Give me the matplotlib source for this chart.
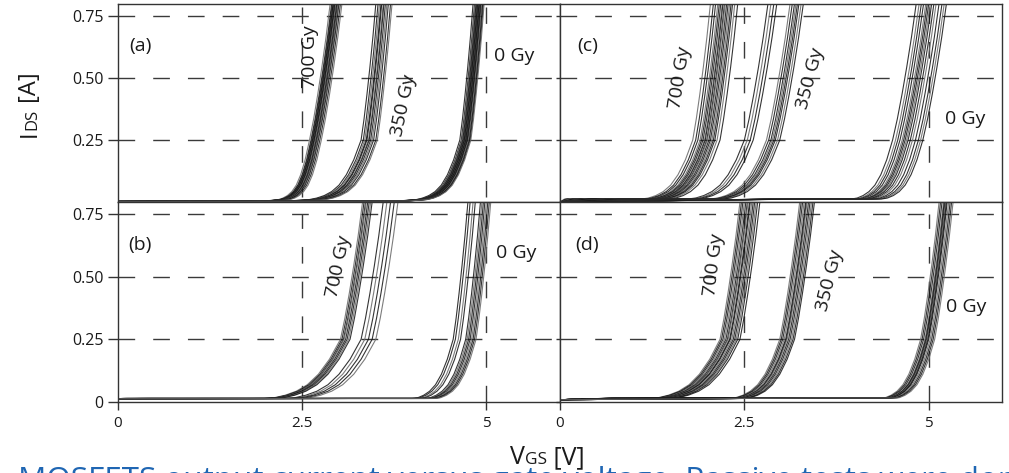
import numpy as np
import matplotlib
matplotlib.use("Agg")
import matplotlib.pyplot as plt

plt.rcParams['font.family'] = ['Open Sans', 'DejaVu Sans']

# typical transfer curve: offset from the 0.25 A crossing
# (in units of the group width) and drain current in A
shape_u = [-4.0, -2.0, -1.4, -1.2, -1.0, -0.8, -0.6, -0.4, -0.2, 0.0, 0.2, 0.4, 0.6, 0.8, 1.0, 1.15]
shape_i = [0.000, 0.004, 0.010, 0.016, 0.026, 0.042, 0.068, 0.11, 0.17, 0.25, 0.335, 0.435, 0.545, 0.665, 0.80, 0.90]

# VGS where each curve crosses 0.25 A
a_700 = [2.60, 2.62, 2.63, 2.64, 2.64, 2.65, 2.66, 2.66, 2.67, 2.68, 2.69, 2.70, 2.71, 2.72, 2.74, 2.76]
a_350 = [3.30, 3.33, 3.35, 3.37, 3.38, 3.40, 3.41, 3.43, 3.45, 3.47, 3.50, 3.52]
a_0 = [4.64, 4.66, 4.67, 4.68, 4.69, 4.70, 4.70, 4.71, 4.72, 4.72, 4.73, 4.74, 4.74, 4.75, 4.76, 4.77, 4.78, 4.79]

b_700 = [3.02, 3.04, 3.06, 3.07, 3.09, 3.11, 3.13, 3.15, 3.30, 3.35, 3.40, 3.45, 3.50]
b_0 = [4.55, 4.58, 4.62, 4.65, 4.72, 4.74, 4.76, 4.78, 4.80, 4.82, 4.84, 4.86]

c_700 = [1.80, 1.84, 1.87, 1.90, 1.92, 1.94, 1.96, 1.97, 1.99, 2.00, 2.02, 2.04, 2.06, 2.08, 2.10, 2.13, 2.17]
c_350 = [2.50, 2.54, 2.58, 2.62, 2.80, 2.83, 2.86, 2.88, 2.90, 2.92, 2.95, 2.98]
c_0 = [4.51, 4.55, 4.58, 4.61, 4.64, 4.66, 4.68, 4.70, 4.72, 4.75, 4.78, 4.82, 4.86, 4.89, 4.92]

d_700 = [2.17, 2.19, 2.21, 2.23, 2.25, 2.27, 2.28, 2.30, 2.31, 2.33, 2.35, 2.37, 2.39, 2.41, 2.44]
d_350 = [2.98, 3.00, 3.02, 3.04, 3.06, 3.07, 3.08, 3.10, 3.12, 3.14, 3.16, 3.18]
d_0 = [4.89, 4.91, 4.93, 4.95, 4.96, 4.97, 4.98, 4.99, 5.00, 5.02, 5.04, 5.06, 5.08]

# (curves, width above 0.25 A, width below 0.25 A)
panel_groups = {
    "a": [(a_700, 0.28, 0.30), (a_350, 0.20, 0.50), (a_0, 0.18, 0.42)],
    "b": [(b_700, 0.30, 0.75), (b_0, 0.20, 0.40)],
    "c": [(c_700, 0.24, 0.50), (c_350, 0.32, 0.55), (c_0, 0.32, 0.40)],
    "d": [(d_700, 0.27, 0.70), (d_350, 0.27, 0.50), (d_0, 0.25, 0.40)],
}
leak_start = {"a": 0.002, "b": 0.012, "c": 0.0, "d": 0.008}
leak_floor = {"a": 0.003, "b": 0.013, "c": 0.012, "d": 0.015}

# rotated dose labels: text, VGS (centre), IDS (centre), rotation
dose_labels = {
    "a": [("700 Gy", 2.61, 0.585, 90), ("350 Gy", 3.88, 0.39, 78)],
    "b": [("700 Gy", 2.99, 0.54, 78)],
    "c": [("700 Gy", 1.63, 0.50, 81), ("350 Gy", 3.40, 0.50, 75)],
    "d": [("700 Gy", 2.09, 0.547, 83), ("350 Gy", 3.66, 0.487, 76)],
}
# "0 Gy" labels: VGS (left edge), IDS (centre)
zero_labels = {"a": (5.11, 0.59), "b": (5.13, 0.595), "c": (5.22, 0.335), "d": (5.24, 0.38)}

W, H = 1009, 473
fig = plt.figure(figsize=(W / 100, H / 100), dpi=100)

boxes = {
    "a": [118 / W, 1 - 202 / H, 442 / W, 198.4 / H],
    "c": [560 / W, 1 - 202 / H, 442.5 / W, 198.4 / H],
    "b": [118 / W, 1 - 401.7 / H, 442 / W, 199.7 / H],
    "d": [560 / W, 1 - 401.7 / H, 442.5 / W, 199.7 / H],
}

grid_kw = dict(color="#3a3a3a", lw=1.0, dashes=(12, 13), zorder=1)
u = np.array(shape_u)
cur = np.array(shape_i)

for name, box in boxes.items():
    ax = fig.add_axes(box)
    ax.set_xlim(0, 6)
    ax.set_ylim(0, 0.8)
    for y in [0.25, 0.5, 0.75]:
        ax.axhline(y, **grid_kw)
    top = name in ("a", "c")
    for x in [2.5, 5]:
        if top:
            ax.plot([x, x], [0.02, 0.785], **grid_kw)
        else:
            ax.plot([x, x], [0.0, 0.75], **grid_kw)

    k = 0
    for vals, w_up, w_lo in panel_groups[name]:
        for v25 in vals:
            v = v25 + np.where(u < 0, u * w_lo, u * w_up)
            keep = v > 0.05
            xs = np.concatenate([[0.0], v[keep]])
            ys = np.concatenate([[leak_start[name]], np.maximum(cur[keep], leak_floor[name])])
            col = "#111111" if k % 3 else "#666666"
            ax.plot(xs, ys, color=col, lw=0.8, alpha=0.85, zorder=2)
            k += 1

    for txt, x, y, rot in dose_labels[name]:
        ax.text(x, y, txt, fontsize=14, rotation=rot, ha="center", va="center",
                rotation_mode="anchor", color="#1a1a1a", zorder=3)
    zx, zy = zero_labels[name]
    ax.text(zx, zy, "0 Gy", fontsize=14, ha="left", va="center", color="#1a1a1a", zorder=3)
    ax.text(0.30 if name in ("a", "b") else 0.37, 0.628, "(%s)" % name, fontsize=14,
            ha="center", va="center", color="#1a1a1a")

    for s in ax.spines.values():
        s.set_color("#333333")
        s.set_linewidth(1.0)

    left = name in ("a", "b")
    if top:
        ax.set_yticks([0.25, 0.5, 0.75])
        ax.set_yticklabels(["0.25", "0.50", "0.75"] if left else [])
        ax.set_xticks([])
    else:
        ax.set_yticks([0, 0.25, 0.5, 0.75])
        ax.set_yticklabels(["0", "0.25", "0.50", "0.75"] if left else [])
        ax.set_xticks([0, 2.5, 5])
        ax.set_xticklabels(["0", "2.5", "5"])
    ax.tick_params(axis="y", length=7 if left else 3, width=1.0, color="#333333",
                   pad=3.5, labelsize=11.5, labelcolor="#1a1a1a")
    ax.tick_params(axis="x", length=6, width=1.0, color="#333333",
                   pad=4, labelsize=11, labelcolor="#1a1a1a")

# axis labels with small-cap subscripts, built piece by piece
fig.canvas.draw()
renderer = fig.canvas.get_renderer()


def mixed_label(parts, x, y, vertical):
    pos = 0.0
    for s, size in parts:
        if vertical:
            t = fig.text(x, y + pos, s, fontsize=size, rotation=90, rotation_mode="anchor",
                         ha="left", va="baseline", color="#1a1a1a")
            pos += t.get_window_extent(renderer).height / H
        else:
            t = fig.text(x + pos, y, s, fontsize=size, ha="left", va="baseline", color="#1a1a1a")
            pos += t.get_window_extent(renderer).width / W


mixed_label([("V", 18), ("GS", 12.5), (" [V]", 18)], 510 / W, 1 - 464 / H, False)
mixed_label([("I", 17), ("DS", 12), (" [A]", 17)], 36 / W, 1 - 137 / H, True)

# caption running off the bottom of the picture
fig.text(18 / W, -0.034, "MOSFETS output current versus gate voltage. Passive tests were done",
         fontsize=22.6, color="#1f66b3", ha="left", va="baseline")

fig.savefig("out.png", dpi=100)
